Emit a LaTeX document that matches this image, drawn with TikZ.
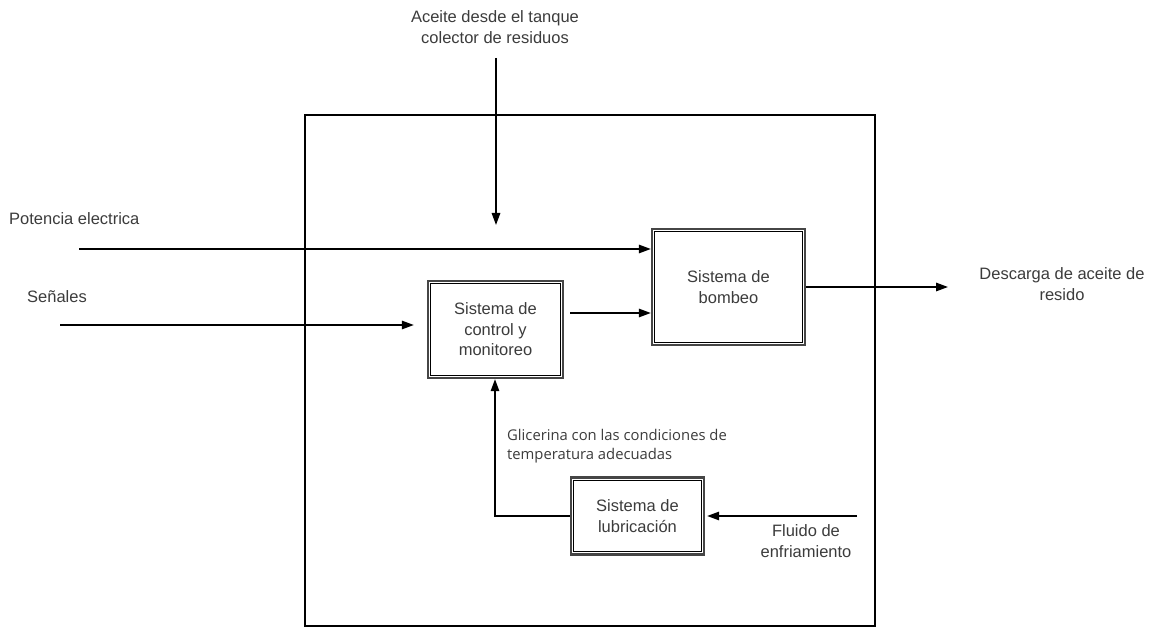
\documentclass[tikz,border=0pt]{standalone}
\usepackage{fontspec}
\setmainfont{Liberation Sans}
\newfontfamily\glifont{Open Sans}
\usetikzlibrary{arrows.meta,calc}
\definecolor{txt}{RGB}{60,60,60}
\definecolor{bord}{RGB}{70,70,70}
\tikzset{
  lbl/.style={text=txt,font=\fontsize{16.5}{21}\selectfont,inner sep=0pt,align=center},
  glbl/.style={text=txt,font=\glifont\fontsize{14.8}{19.5}\selectfont,inner sep=0pt,align=left},
  sysbox/.style={draw=bord,line width=2.4pt,text=txt,font=\fontsize{16.5}{20.5}\selectfont,align=center,inner sep=0pt},
  inner/.style={draw=black,line width=1pt},
  arr/.style={draw=black,line width=1.5pt,-{Triangle[length=12pt,width=8.5pt]}},
}
\begin{document}
\begin{tikzpicture}[x=1pt,y=-1pt]
\useasboundingbox[fill=white] (0,0) rectangle (1165,628);
% outer frame
\draw[line width=1.6pt] (305,115) rectangle (875,626);
% boxes
\node[sysbox,minimum width=153pt,minimum height=116pt] (pump) at (728.5,287) {Sistema de\\bombeo};
\node[sysbox,minimum width=135pt,minimum height=97pt] (ctrl) at (495.5,329.5) {Sistema de\\control y\\monitoreo};
\node[sysbox,minimum width=133pt,minimum height=77pt] (lub) at (637.5,516) {Sistema de\\lubricación};
\foreach \n in {pump,ctrl,lub}
  \draw[inner] ([xshift=4pt,yshift=-4pt]\n.north west) rectangle ([xshift=-4pt,yshift=4pt]\n.south east);
% labels
\node[lbl] (tAceite) at (495,27) {Aceite desde el tanque\\colector de residuos};
\node[lbl,anchor=west] (tPot) at (9,219) {Potencia electrica};
\node[lbl,anchor=west] (tSen) at (27,297) {Señales};
\node[lbl] (tDesc) at (1062,284) {Descarga de aceite de\\resido};
\node[glbl,anchor=west] (tGli) at (507,446) {Glicerina con las condiciones de\\temperatura adecuadas};
\node[lbl] (tFlu) at (806,541) {Fluido de\\enfriamiento};
% free ends
\coordinate (aTop) at (496,58);
\coordinate (aTopEnd) at (496,225);
\coordinate (pIn) at (79,249);
\coordinate (sIn) at (60,325);
\coordinate (dOut) at (948,287);
\coordinate (fIn) at (857,516);
\coordinate (c1) at (570,313);
\coordinate (vx) at (495,516);
% connectors
\draw[arr] (aTop) -- (aTopEnd);
\draw[arr] (pIn) -- (pIn -| pump.west);
\draw[arr,shorten >=13pt] (sIn) -- (sIn -| ctrl.west);
\draw[arr] (c1) -- (c1 -| pump.west);
\draw[arr] (pump.east) -- (pump.east -| dOut);
\draw[arr] (lub.west) -- (vx) -- (vx |- ctrl.south);
\draw[arr,shorten >=2pt] (fIn) -- (fIn -| lub.east);
\end{tikzpicture}
\end{document}
